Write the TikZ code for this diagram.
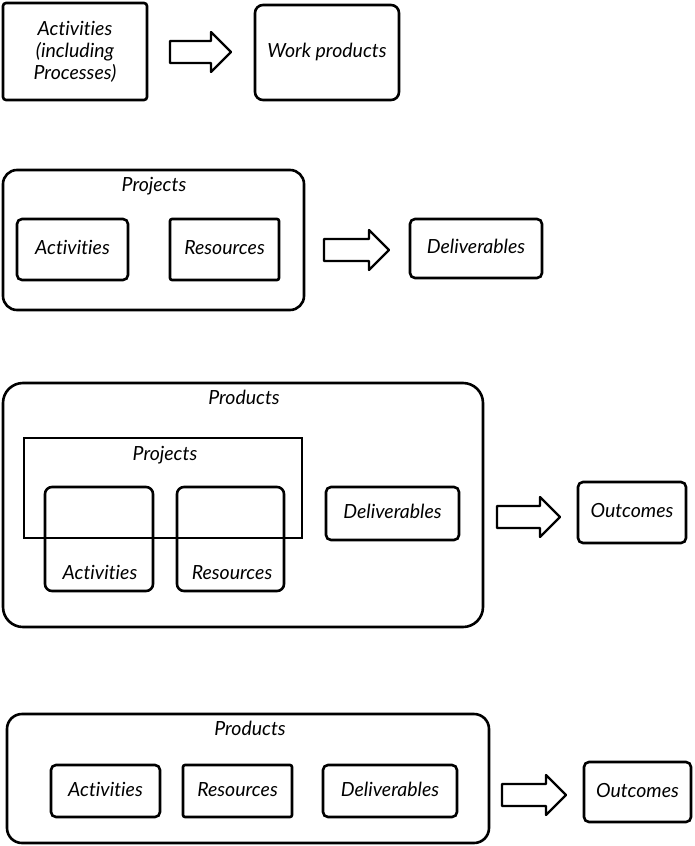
\documentclass[tikz,border=0pt]{standalone}
\usepackage{fontspec}
\setmainfont{Lato}[Ligatures={NoCommon,NoContextual}]
\begin{document}
\begin{tikzpicture}[x=1pt,y=-1pt,
  basefont/.style={font=\itshape\fontsize{19.5}{22}\selectfont, align=center, inner sep=0pt},
  txt/.style={basefont, text height=14pt, text depth=4pt},
  box/.style={draw, line width=2.6pt, rounded corners=5pt, txt},
  mbox/.style={draw, line width=2.6pt, rounded corners=3pt, basefont},
  cont/.style={draw, line width=2.6pt, rounded corners=#1, inner sep=0pt},
  lbl/.style={txt},
  blockarr/.pic={\draw[line width=2.2pt, line join=round] (0,-11) -- (#1-20,-11) -- (#1-20,-20) -- (#1,0) -- (#1-20,20) -- (#1-20,11) -- (0,11) -- cycle;}]
\useasboundingbox (0,0) rectangle (695,846);

% Section 1
\node[mbox, minimum width=144, minimum height=97] (act1) at (75,51.5) {Activities\\(including\\Processes)};
\node[box, minimum width=144, minimum height=95, rounded corners=8pt] (wp) at (327,52.5) {Work products};
\pic (arr1) at (170,52) {blockarr=61};

% Section 2
\node[cont=14pt, minimum width=301, minimum height=140] (proj2) at (153.5,240) {};
\node[lbl] (proj2l) at (154,186) {Projects};
\node[box, minimum width=111, minimum height=61] (act2) at (72.5,249.5) {Activities};
\node[box, minimum width=109, minimum height=61, rounded corners=2pt] (res2) at (224.5,249.5) {Resources};
\pic (arr2) at (324,250) {blockarr=65};
\node[box, minimum width=132, minimum height=59] (del2) at (476,248.5) {Deliverables};

% Section 3
\node[cont=20pt, minimum width=480, minimum height=244] (prod3) at (243,505) {};
\node[lbl] (prod3l) at (244,399) {Products};
\node[cont=0pt, minimum width=278, minimum height=100] (proj3) at (163,488) {};
\node[lbl] (proj3l) at (165,455) {Projects};
\node[cont=7pt, minimum width=108, minimum height=104] (act3) at (99,539) {};
\node[lbl] (act3l) at (100,574) {Activities};
\node[cont=7pt, minimum width=107, minimum height=104] (res3) at (230.5,539) {};
\node[lbl] (res3l) at (232,574) {Resources};
\node[box, minimum width=133, minimum height=53] (del3) at (392.5,513.5) {Deliverables};
\pic (arr3) at (497,517) {blockarr=63};
\node[box, minimum width=108, minimum height=61] (out3) at (632,512.5) {Outcomes};

% Section 4
\node[cont=15pt, minimum width=482, minimum height=129] (prod4) at (248,778.5) {};
\node[lbl] (prod4l) at (250,730) {Products};
\node[box, minimum width=109, minimum height=52] (act4) at (105.5,791) {Activities};
\node[box, minimum width=109, minimum height=52, rounded corners=2pt] (res4) at (237.5,791) {Resources};
\node[box, minimum width=134, minimum height=52] (del4) at (390,791) {Deliverables};
\pic (arr4) at (502,795) {blockarr=64};
\node[box, minimum width=107, minimum height=60] (out4) at (637.5,792) {Outcomes};
\end{tikzpicture}
\end{document}
